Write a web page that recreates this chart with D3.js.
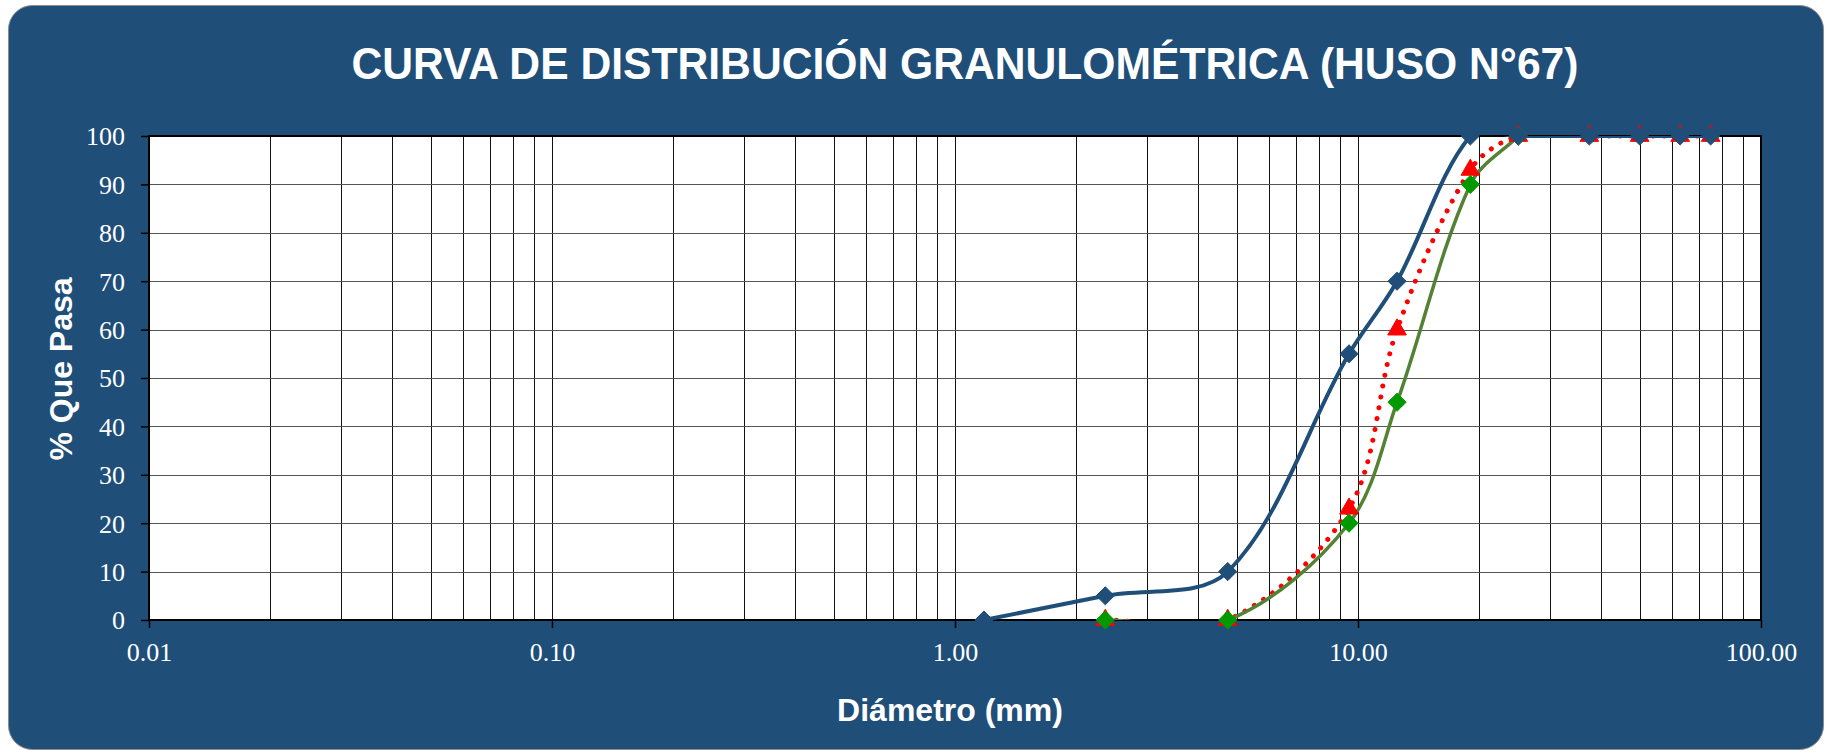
<!DOCTYPE html>
<html>
<head>
<meta charset="utf-8">
<script src="https://cdn.jsdelivr.net/npm/d3@7"></script>
<style>
body { margin: 0; background: #fff; }
</style>
</head>
<body>
<div id="chart"></div>
<script>
// sieve openings (mm) and % passing
var sizes      = [1.18, 2.36, 4.75, 9.5, 12.5, 19, 25, 37.5, 50, 63, 75];
var upperLimit = [0, 5, 10, 55, 70, 100, 100, 100, 100, 100, 100];
var lowerLimit = [null, 0, 0, 20, 45, 90, 100, null, null, null, null];
var sample     = [null, 0, 0, 23, 60, 93, 100, 100, 100, 100, 100];

var yTicks = [0, 10, 20, 30, 40, 50, 60, 70, 80, 90, 100];
var xMajor = [0.01, 0.1, 1, 10, 100];
var xMajorLabels = ["0.01", "0.10", "1.00", "10.00", "100.00"];

var width = 1827, height = 752;
var pLeft = 149, pRight = 1761, pTop = 136, pBottom = 620;

var svg = d3.select("#chart").append("svg")
  .attr("width", width).attr("height", height);

svg.append("defs").append("clipPath").attr("id", "plotclip")
  .append("rect")
  .attr("x", pLeft).attr("y", pTop)
  .attr("width", pRight - pLeft).attr("height", pBottom - pTop);

svg.append("rect")
  .attr("x", 8.5).attr("y", 5.5)
  .attr("width", 1815).attr("height", 744)
  .attr("rx", 24).attr("ry", 24)
  .attr("fill", "#1f4e79")
  .attr("stroke", "#8c8c8c").attr("stroke-width", 1);

var x = d3.scaleLog().domain([0.01, 100]).range([pLeft, pRight]);
var y = d3.scaleLinear().domain([0, 100]).range([pBottom, pTop]);

// plot background
svg.append("rect")
  .attr("x", pLeft).attr("y", pTop)
  .attr("width", pRight - pLeft).attr("height", pBottom - pTop)
  .attr("fill", "#fff");

// vertical grid (every 1..9 per decade)
svg.append("g").selectAll("line")
  .data(x.ticks())
  .enter().append("line")
  .attr("x1", function(d) { return Math.round(x(d)) + 0.5; })
  .attr("x2", function(d) { return Math.round(x(d)) + 0.5; })
  .attr("y1", pTop).attr("y2", pBottom)
  .attr("stroke", "#111").attr("stroke-width", 1);

// horizontal grid
svg.append("g").selectAll("line")
  .data(yTicks)
  .enter().append("line")
  .attr("x1", pLeft).attr("x2", pRight)
  .attr("y1", function(d) { return Math.round(y(d)) + 0.5; })
  .attr("y2", function(d) { return Math.round(y(d)) + 0.5; })
  .attr("stroke", "#555").attr("stroke-width", 1);

// y axis
var yAxis = svg.append("g")
  .attr("transform", "translate(" + pLeft + ",0)")
  .call(d3.axisLeft(y).tickValues(yTicks).tickSize(8).tickPadding(16).tickFormat(d3.format("d")));
yAxis.select(".domain").remove();
yAxis.selectAll("line").attr("stroke", "#000").attr("stroke-width", 1.5);
yAxis.selectAll("text")
  .attr("fill", "#fff")
  .attr("font-family", "'Liberation Serif', 'Times New Roman', serif")
  .attr("font-size", 26)
  .attr("dy", "0.34em");

// x axis
var xAxis = svg.append("g")
  .attr("transform", "translate(0," + pBottom + ")")
  .call(d3.axisBottom(x).tickValues(xMajor).tickSize(8).tickPadding(15)
    .tickFormat(function(d, i) { return xMajorLabels[i]; }));
xAxis.select(".domain").remove();
xAxis.selectAll("line").attr("stroke", "#000").attr("stroke-width", 1.5);
xAxis.selectAll("text")
  .attr("fill", "#fff")
  .attr("font-family", "'Liberation Serif', 'Times New Roman', serif")
  .attr("font-size", 26)
  .attr("dy", "0.71em");

// plot border
svg.append("rect")
  .attr("x", pLeft).attr("y", pTop)
  .attr("width", pRight - pLeft).attr("height", pBottom - pTop)
  .attr("fill", "none")
  .attr("stroke", "#000").attr("stroke-width", 2);

function pts(vals) {
  var out = [];
  vals.forEach(function(v, i) { if (v !== null) out.push([sizes[i], v]); });
  return out;
}

// spreadsheet-style smoothing: bezier handles scaled by neighbour segment lengths
function smoothPath(data) {
  var p = data.map(function(d) { return [x(d[0]), y(d[1])]; });
  var path = d3.path();
  function dist(a, b) { return Math.hypot(b[0] - a[0], b[1] - a[1]); }
  path.moveTo(p[0][0], p[0][1]);
  for (var i = 0; i < p.length - 1; i++) {
    var p0 = p[i - 1] || p[i], p1 = p[i], p2 = p[i + 1], p3 = p[i + 2] || p[i + 1];
    var d01 = dist(p0, p1), d12 = dist(p1, p2), d23 = dist(p2, p3);
    var f1 = (d01 + d12) > 0 ? d12 / (d01 + d12) / 3 : 0;
    var f2 = (d12 + d23) > 0 ? d12 / (d12 + d23) / 3 : 0;
    path.bezierCurveTo(
      p1[0] + (p2[0] - p0[0]) * f1, p1[1] + (p2[1] - p0[1]) * f1,
      p2[0] - (p3[0] - p1[0]) * f2, p2[1] - (p3[1] - p1[1]) * f2,
      p2[0], p2[1]);
  }
  return path.toString();
}

var series = [
  { data: pts(sample), line: "#ff0000", width: 5, dash: "0.01 11", marker: "#ff0000", sym: d3.symbolTriangle, size: 150 },
  { data: pts(lowerLimit), line: "#548235", width: 3.5, dash: null, marker: "#009a00", sym: d3.symbolDiamond2, size: 210 },
  { data: pts(upperLimit), line: "#1f4e79", width: 4, dash: null, marker: "#1f4e79", sym: d3.symbolDiamond2, size: 210 }
];

var lines = svg.append("g").attr("clip-path", "url(#plotclip)");
series.forEach(function(s) {
  lines.append("path").datum(s.data)
    .attr("d", smoothPath)
    .attr("fill", "none")
    .attr("stroke", s.line)
    .attr("stroke-width", s.width)
    .attr("stroke-linecap", s.dash ? "round" : "butt")
    .attr("stroke-dasharray", s.dash);
});

series.forEach(function(s) {
  svg.append("g").selectAll("path")
    .data(s.data)
    .enter().append("path")
    .attr("transform", function(d) { return "translate(" + x(d[0]) + "," + y(d[1]) + ")"; })
    .attr("d", d3.symbol().type(s.sym).size(s.size))
    .attr("fill", s.marker)
    .attr("stroke", s.marker).attr("stroke-width", 1).attr("stroke-linejoin", "round");
});

// titles
svg.append("text")
  .attr("x", 965).attr("y", 79)
  .attr("text-anchor", "middle")
  .attr("font-family", "'Liberation Sans', Arial, sans-serif")
  .attr("font-weight", "bold").attr("font-size", 44)
  .attr("fill", "#fff")
  .attr("textLength", 1227).attr("lengthAdjust", "spacingAndGlyphs")
  .text("CURVA DE DISTRIBUCIÓN GRANULOMÉTRICA (HUSO N°67)");

svg.append("text")
  .attr("x", 950).attr("y", 721)
  .attr("text-anchor", "middle")
  .attr("font-family", "'Liberation Sans', Arial, sans-serif")
  .attr("font-weight", "bold").attr("font-size", 32)
  .attr("fill", "#fff")
  .text("Diámetro (mm)");

svg.append("text")
  .attr("transform", "translate(72,369) rotate(-90)")
  .attr("text-anchor", "middle")
  .attr("font-family", "'Liberation Sans', Arial, sans-serif")
  .attr("font-weight", "bold").attr("font-size", 32)
  .attr("fill", "#fff")
  .text("% Que Pasa");
</script>
</body>
</html>
